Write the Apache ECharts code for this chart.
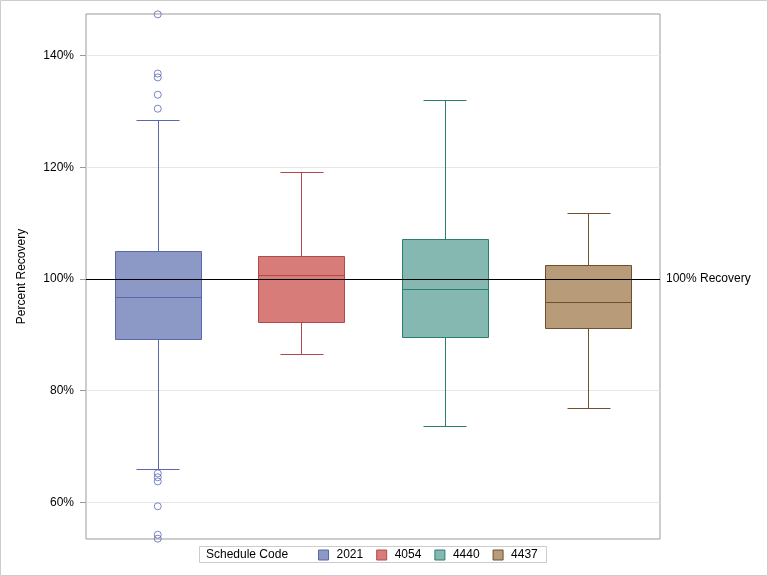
<!DOCTYPE html>
<html>
<head>
<meta charset="utf-8">
<script src="https://cdn.jsdelivr.net/npm/echarts@6/dist/echarts.min.js"></script>
<style>
html,body{margin:0;padding:0;background:#fff;}
#chart{width:768px;height:576px;}
</style>
</head>
<body>
<div id="chart"></div>
<script>
// ---- data ----
var categories = ['2021', '4054', '4440', '4437'];
var lowWhisker = [65.9, 86.6, 73.7, 76.9];
var q1 = [89.2, 92.3, 89.6, 91.2];
var median = [96.7, 100.8, 98.3, 95.8];
var q3 = [105.1, 104.2, 107.1, 102.5];
var highWhisker = [128.5, 119.1, 132.1, 111.9];
var outliers2021 = [147.4, 136.8, 136.1, 133.0, 130.5, 65.2, 64.5, 63.75, 59.3, 54.2, 53.5];
var yTicks = [60, 80, 100, 120, 140];
var refValue = 100;

// ---- styles ----
var fills = ['#8C98C6', '#D87C7A', '#84B8B0', '#B89B78'];
var strokes = ['#5868A8', '#B04A4A', '#2A7F70', '#6E5030'];
var FONT = 'Liberation Sans, Arial, sans-serif';

function px(v) { return Math.round(v) + 0.5; }

function makeRender(idx) {
  return function (params, api) {
    var c = api.value(0);
    var x = api.coord([c, api.value(3)])[0];
    var yLow = px(api.coord([c, api.value(1)])[1]);
    var yQ1 = px(api.coord([c, api.value(2)])[1]);
    var yMed = px(api.coord([c, api.value(3)])[1]);
    var yQ3 = px(api.coord([c, api.value(4)])[1]);
    var yHigh = px(api.coord([c, api.value(5)])[1]);
    var band = api.size([1, 0])[0];
    var bw = band * 0.6;
    var cw = bw * 0.5;
    var xc = px(x);
    var x0 = px(x - bw / 2), x1 = px(x + bw / 2);
    var c0 = px(x - cw / 2), c1 = px(x + cw / 2);
    var ls = { stroke: strokes[idx], lineWidth: 1 };
    return {
      type: 'group',
      children: [
        { type: 'line', shape: { x1: xc, y1: yQ3, x2: xc, y2: yHigh }, style: ls },
        { type: 'line', shape: { x1: xc, y1: yQ1, x2: xc, y2: yLow }, style: ls },
        { type: 'line', shape: { x1: c0, y1: yHigh, x2: c1, y2: yHigh }, style: ls },
        { type: 'line', shape: { x1: c0, y1: yLow, x2: c1, y2: yLow }, style: ls },
        { type: 'rect', shape: { x: x0, y: yQ3, width: x1 - x0, height: yQ1 - yQ3 },
          style: { fill: fills[idx], stroke: strokes[idx], lineWidth: 1 } },
        { type: 'line', shape: { x1: x0, y1: yMed, x2: x1, y2: yMed }, style: ls }
      ]
    };
  };
}

var series = [];
// gridlines
series.push({
  type: 'line', data: [], z: 0, silent: true,
  markLine: {
    silent: true, symbol: 'none', animation: false, z: 0, zlevel: 0,
    label: { show: false },
    lineStyle: { color: '#E6E6E6', width: 1, type: 'solid' },
    data: yTicks.map(function (v) { return { yAxis: v }; })
  }
});
categories.forEach(function (name, i) {
  series.push({
    name: name,
    type: 'custom',
    z: 3,
    renderItem: makeRender(i),
    itemStyle: { color: fills[i], borderColor: strokes[i] },
    encode: { x: 0, y: [1, 2, 3, 4, 5] },
    data: [[i, lowWhisker[i], q1[i], median[i], q3[i], highWhisker[i]]],
    animation: false
  });
});
series.push({
  name: 'outliers',
  type: 'scatter',
  z: 4,
  symbol: 'circle',
  symbolSize: 7,
  itemStyle: { color: 'rgba(0,0,0,0)', borderColor: '#5868B8', borderWidth: 1 },
  data: outliers2021.map(function (v) { return [0, v]; }),
  animation: false
});
// reference line
series.push({
  type: 'line', data: [], z: 5, silent: true,
  markLine: {
    silent: true, symbol: 'none', animation: false, z: 6,
    lineStyle: { color: '#000', width: 1, type: 'solid' },
    label: { show: true, position: 'end', formatter: refValue + '% Recovery',
      color: '#000', fontSize: 12, fontFamily: FONT, distance: 6 },
    data: [{ yAxis: refValue }]
  }
});

var chart = echarts.init(document.getElementById('chart'), null, { renderer: 'canvas' });
chart.setOption({
  animation: false,
  backgroundColor: '#fff',
  textStyle: { fontFamily: FONT },
  grid: { left: 86, right: 108, top: 14, bottom: 37, show: true,
    borderColor: '#9A9A9A', borderWidth: 1, backgroundColor: 'transparent' },
  xAxis: {
    type: 'category',
    data: categories,
    boundaryGap: true,
    axisLine: { show: false },
    axisTick: { show: false },
    axisLabel: { show: false },
    splitLine: { show: false }
  },
  yAxis: {
    type: 'value',
    min: 53.44,
    max: 147.46,
    name: 'Percent Recovery',
    nameLocation: 'middle',
    nameRotate: 90,
    nameGap: 58,
    nameTextStyle: { color: '#000', fontSize: 12, fontFamily: FONT },
    axisLine: { show: false },
    axisTick: { show: true, length: 6, customValues: yTicks,
      lineStyle: { color: '#9A9A9A' } },
    axisLabel: { show: true, customValues: yTicks, margin: 12,
      color: '#000', fontSize: 12, fontFamily: FONT,
      formatter: function (v) { return v + '%'; } },
    splitLine: { show: false }
  },
  legend: {
    data: categories.map(function (n, i) {
      return { name: n, icon: 'rect',
        itemStyle: { color: fills[i], borderColor: strokes[i], borderWidth: 1 } };
    }),
    left: 318,
    top: 549,
    padding: 0,
    itemWidth: 10,
    itemHeight: 10,
    itemGap: 13,
    selectedMode: false,
    textStyle: { color: '#000', fontSize: 12, fontFamily: FONT, padding: [0, 0, 0, 3] }
  },
  graphic: [
    { type: 'rect', silent: true, z: 0,
      shape: { x: 0.5, y: 0.5, width: 767, height: 575 },
      style: { fill: 'none', stroke: '#CCCCCC', lineWidth: 1 } },
    { type: 'rect', silent: true,
      shape: { x: 199.5, y: 546.5, width: 347, height: 16 },
      style: { fill: 'none', stroke: '#CCCCCC', lineWidth: 1 } },
    { type: 'text', silent: true, x: 206, y: 554.5,
      style: { text: 'Schedule Code', fill: '#000', fontSize: 12, fontFamily: FONT,
        textVerticalAlign: 'middle', verticalAlign: 'middle' } }
  ],
  series: series
});
</script>
</body>
</html>
